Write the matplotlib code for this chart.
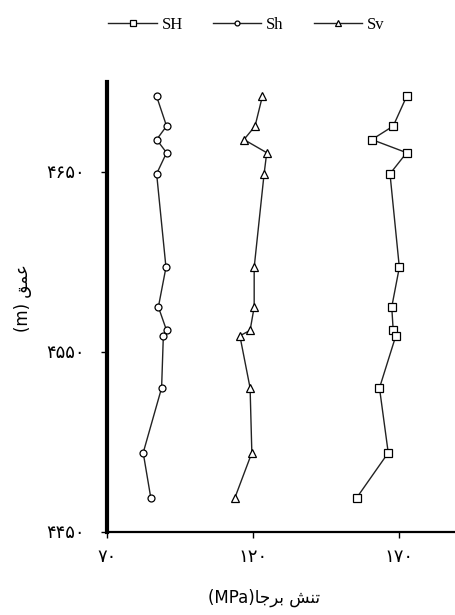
import numpy as np
import matplotlib.pyplot as plt
from matplotlib.ticker import FuncFormatter

plt.rcParams['font.family'] = ['Liberation Serif', 'DejaVu Sans']

# depths (m) of the measurement points, top to bottom
depth = [4692, 4675.5, 4668, 4660.7, 4649, 4597, 4575, 4562, 4559, 4530, 4494, 4469]

# stresses (MPa)
SH = [172.6, 168.0, 160.7, 172.6, 166.9, 170.1, 167.5, 168.0, 168.9, 163.3, 166.3, 155.5]
Sh = [87.0, 90.4, 87.0, 90.4, 87.0, 90.2, 87.6, 90.4, 89.3, 88.7, 82.4, 85.0]
Sv = [123.2, 120.7, 116.9, 124.7, 123.8, 120.4, 120.4, 119.0, 115.5, 119.0, 119.6, 113.8]

xticks = [70, 120, 170]
yticks = [4450, 4550, 4650]

fa_digits = str.maketrans('0123456789', '۰۱۲۳۴۵۶۷۸۹')
def fa(v, pos=None):
    return str(int(round(v))).translate(fa_digits)

fig = plt.figure(figsize=(4.56, 6.15), dpi=100)
ax = fig.add_axes([0.2346, 0.135, 0.7654, 0.7317])

style = dict(color='#222222', lw=1.0, mfc='white', mec='black', mew=0.9)
ax.plot(SH, depth, marker='s', ms=5.5, label='SH', **style)
ax.plot(Sh, depth, marker='o', ms=5.0, label='Sh', **style)
ax.plot(Sv, depth, marker='^', ms=5.5, label='Sv', **style)

ax.set_xlim(70, 189.5)
ax.set_ylim(4450, 4700)
ax.set_xticks(xticks)
ax.set_yticks(yticks)
ax.xaxis.set_major_formatter(FuncFormatter(fa))
ax.yaxis.set_major_formatter(FuncFormatter(fa))

for s in ['top', 'right']:
    ax.spines[s].set_visible(False)
ax.spines['left'].set_linewidth(3.0)
ax.spines['bottom'].set_linewidth(1.6)
ax.tick_params(axis='both', direction='out', length=4, width=1, labelsize=13, colors='black')
ax.tick_params(axis='x', pad=8)
ax.tick_params(axis='y', pad=12)

# "تنش برجا (MPa)" and "عمق (m)" written in visual order with presentation forms
xlab = '(MPa)' + '\uFE8E\uFE9F\uFEAE\uFE91' + ' ' + '\uFEB6\uFEE8\uFE97'
ylab = '(m) ' + '\uFED6\uFEE4\uFECB'
ax.set_xlabel(xlab, fontsize=12, family=['DejaVu Sans', 'Liberation Serif'])
ax.set_ylabel(ylab, fontsize=12, family=['DejaVu Sans', 'Liberation Serif'])
ax.xaxis.set_label_coords(0.45, -0.125)
ax.yaxis.set_label_coords(-0.215, 0.52)

ax.legend(loc='center', bbox_to_anchor=(0.40, 1.127), ncol=3, frameon=False,
          fontsize=12, markerscale=0.7, handlelength=2.9, handletextpad=0.3,
          columnspacing=1.8)

fig.savefig('out.png', dpi=100)
